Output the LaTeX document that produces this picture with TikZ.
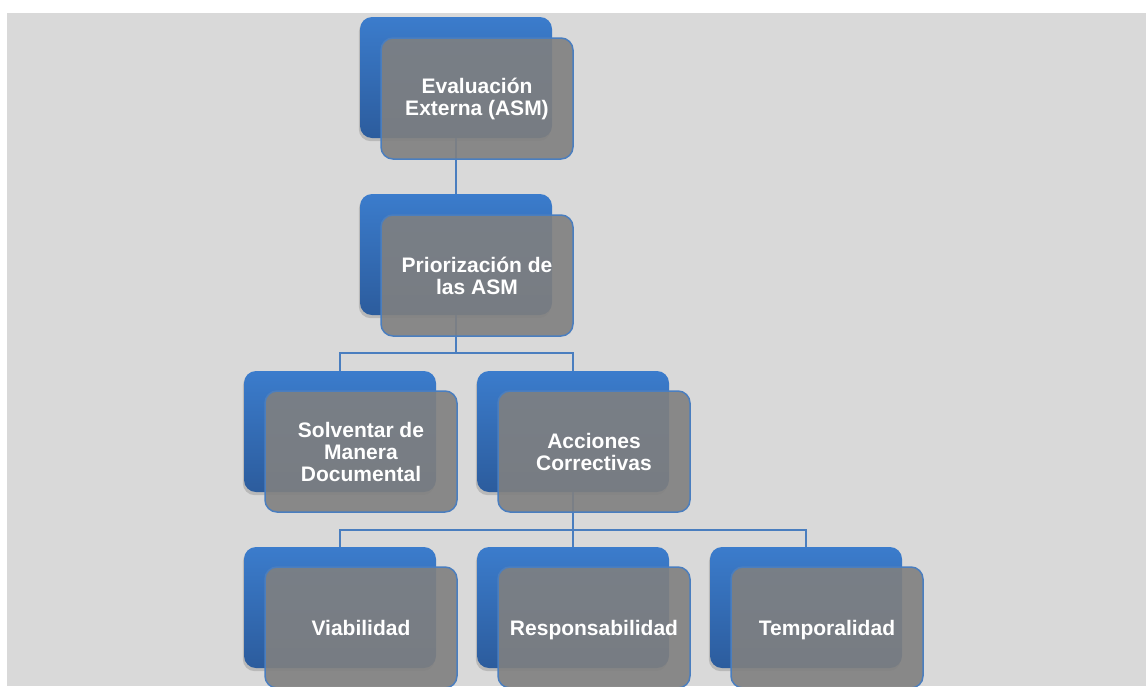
\documentclass[tikz,border=0pt]{standalone}
\usepackage{fontspec}
\setmainfont{Liberation Sans}
\usetikzlibrary{shadows}

\definecolor{bgcol}{HTML}{D9D9D9}
\definecolor{bluetop}{HTML}{3B7CCC}
\definecolor{bluebot}{HTML}{2C5C9D}
\definecolor{frontgray}{HTML}{808080}
\definecolor{edgeblue}{HTML}{4A7EBF}

\tikzset{
  backbox/.style={rectangle, rounded corners=6pt, minimum width=96pt, minimum height=60.5pt,
    outer sep=0pt, top color=bluetop, bottom color=bluebot, draw=none,
    drop shadow={shadow xshift=-0.6pt, shadow yshift=-1.6pt, opacity=0.35}},
  frontbox/.style={rectangle, rounded corners=6pt, minimum width=96pt, minimum height=60.5pt,
    outer sep=0pt, inner sep=2pt, fill=frontgray, fill opacity=0.9, text opacity=1,
    draw=edgeblue, line width=0.75pt, text=white, align=center,
    font=\bfseries\fontsize{10.5}{11}\selectfont},
  oneline/.style={text height=7.6pt, text depth=0pt},
  link/.style={draw=edgeblue, line width=0.8pt}
}

\begin{document}
\begin{tikzpicture}[x=0.5pt, y=-0.5pt]
    \clip (0,0) rectangle (1146,686);
    \fill[bgcol] (7,13) rectangle (1146,686);

    % boxes at the back
    \node[backbox] (b1) at (456,77.5) {};
    \node[backbox] (b2) at (456,254.5) {};
    \node[backbox] (b3) at (340,431.5) {};
    \node[backbox] (b4) at (573,431.5) {};
    \node[backbox] (b5) at (340,607.5) {};
    \node[backbox] (b6) at (573,607.5) {};
    \node[backbox] (b7) at (806,607.5) {};

    % connectors
    \draw[link] (b1.south) -- (b2.north);
    \draw[link] (b2.south) -- ++(0,38) -| (b3.north);
    \draw[link] (b2.south) -- ++(0,38) -| (b4.north);
    \draw[link] (b4.south) -- ++(0,38) -| (b5.north);
    \draw[link] (b4.south) -- (b6.north);
    \draw[link] (b4.south) -- ++(0,38) -| (b7.north);

    % boxes in front
    \node[frontbox] (f1) at ([shift={(21,21)}]b1) {Evaluación\\Externa (ASM)};
    \node[frontbox] (f2) at ([shift={(21,21)}]b2) {Priorización de\\las ASM};
    \node[frontbox] (f3) at ([shift={(21,20)}]b3) {Solventar de\\Manera\\Documental};
    \node[frontbox] (f4) at ([shift={(21,20)}]b4) {Acciones\\Correctivas};
    \node[frontbox, oneline] (f5) at ([shift={(21,20)}]b5) {Viabilidad};
    \node[frontbox, oneline] (f6) at ([shift={(21,20)}]b6) {Responsabilidad};
    \node[frontbox, oneline] (f7) at ([shift={(21,20)}]b7) {Temporalidad};
\end{tikzpicture}
\end{document}
